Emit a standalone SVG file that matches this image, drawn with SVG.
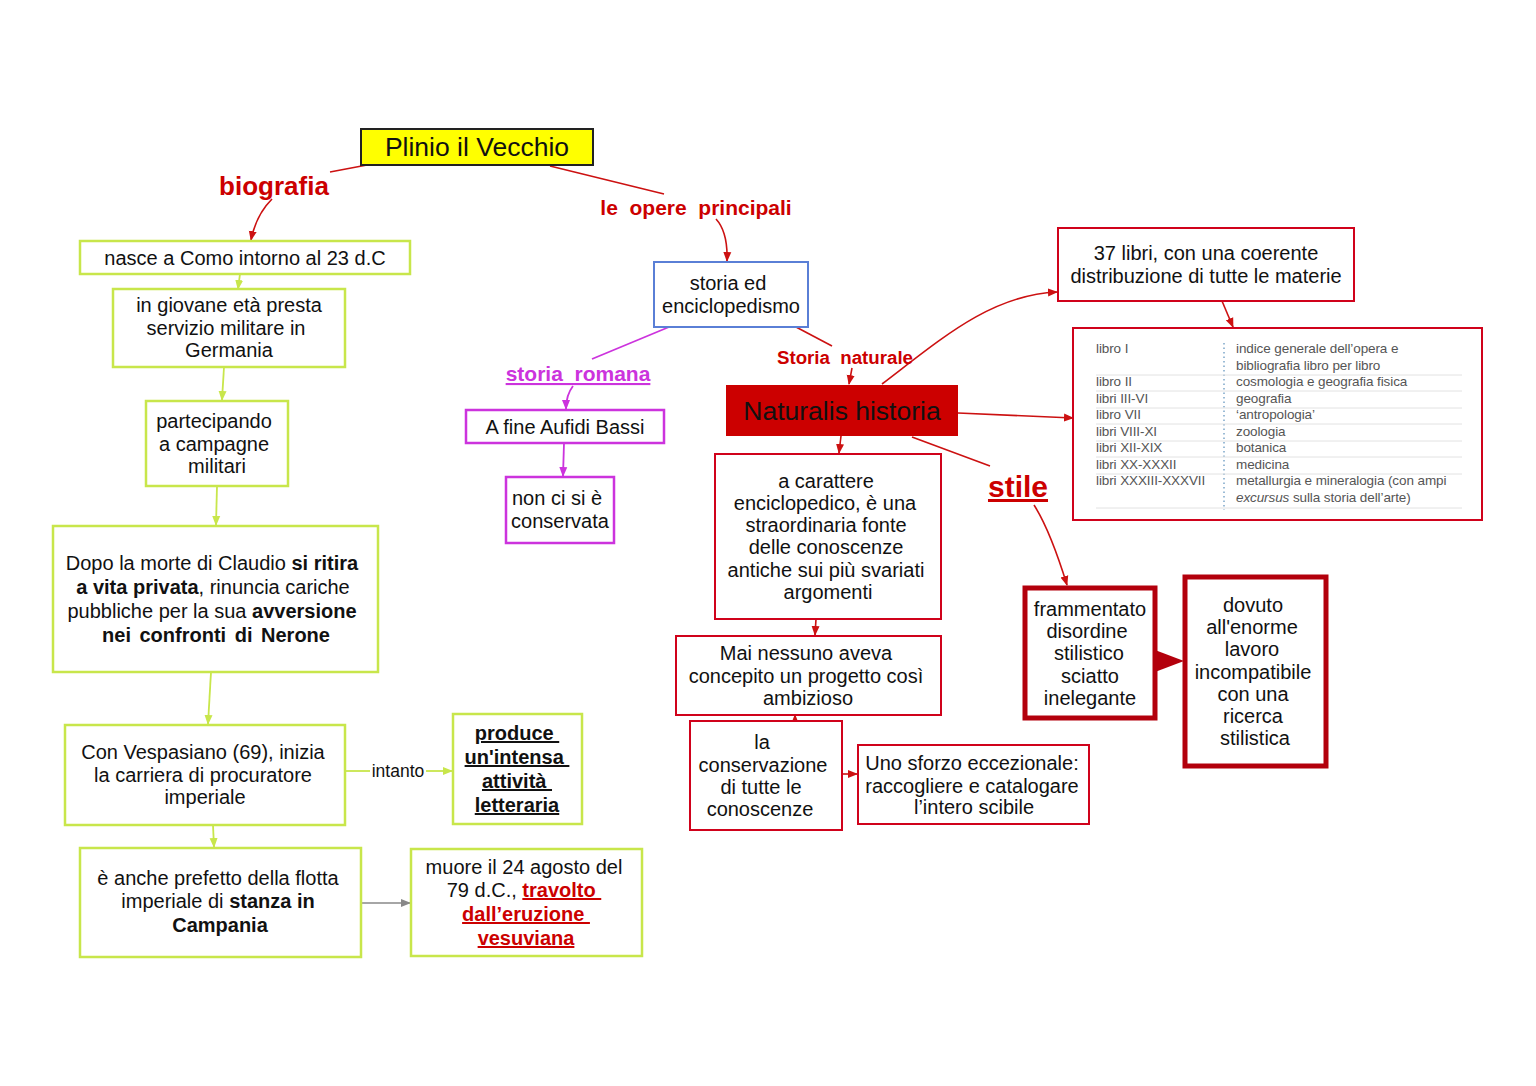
<svg xmlns="http://www.w3.org/2000/svg" width="1536" height="1086" viewBox="0 0 1536 1086">
<defs>
<style>
text{font-family:"Liberation Sans",Arial,sans-serif;fill:#111;}
.t{font-size:20px;text-anchor:middle;}
.b{font-weight:bold;}
.u{text-decoration:underline;}
.g{fill:#fff;stroke:#c8e64b;stroke-width:2.5;}
.r{fill:#fff;stroke:#d0021b;stroke-width:2;}
.m{fill:#fff;stroke:#cc33dd;stroke-width:2.5;}
.dr{fill:#fff;stroke:#b3000c;stroke-width:5;}
.lr{fill:#cc0000;font-weight:bold;}
.cr{fill:none;stroke:#cc1111;stroke-width:1.6;}
.cg{fill:none;stroke:#c8e64b;stroke-width:1.8;}
.cm{fill:none;stroke:#cc33dd;stroke-width:1.8;}
.cy{fill:none;stroke:#888;stroke-width:1.5;}
.tb{font-size:13.5px;fill:#555;letter-spacing:-0.1px;}
.sep{stroke:#e2e2e2;stroke-width:1;}
</style>
<marker id="ar" markerUnits="userSpaceOnUse" markerWidth="10" markerHeight="10" viewBox="0 0 10 10" refX="9" refY="5" orient="auto"><path d="M0,1 L10,5 L0,9 z" fill="#cc1111"/></marker>
<marker id="ag" markerUnits="userSpaceOnUse" markerWidth="10" markerHeight="10" viewBox="0 0 10 10" refX="9" refY="5" orient="auto"><path d="M0,1 L10,5 L0,9 z" fill="#c8e64b"/></marker>
<marker id="am" markerUnits="userSpaceOnUse" markerWidth="10" markerHeight="10" viewBox="0 0 10 10" refX="9" refY="5" orient="auto"><path d="M0,1 L10,5 L0,9 z" fill="#cc33dd"/></marker>
<marker id="ay" markerUnits="userSpaceOnUse" markerWidth="10" markerHeight="10" viewBox="0 0 10 10" refX="9" refY="5" orient="auto"><path d="M0,1 L10,5 L0,9 z" fill="#888"/></marker>
</defs>
<rect width="1536" height="1086" fill="#fff"/>

<g id="connectors">
<path class="cr" d="M367 165 L330 172"/>
<path class="cr" d="M272 199 Q256 215 251 240" marker-end="url(#ar)"/>
<path class="cr" d="M550 166 L664 194"/>
<path class="cr" d="M716 219 Q728 232 727 261" marker-end="url(#ar)"/>
<path class="cg" d="M240 274 L238 289" marker-end="url(#ag)"/>
<path class="cg" d="M224 367 L222 400" marker-end="url(#ag)"/>
<path class="cg" d="M217 486 L216 525" marker-end="url(#ag)"/>
<path class="cg" d="M211 672 L208 724" marker-end="url(#ag)"/>
<path class="cg" d="M345 771 L370 771"/>
<path class="cg" d="M426 771 L452 771" marker-end="url(#ag)"/>
<path class="cg" d="M213 825 L214 847" marker-end="url(#ag)"/>
<path class="cy" d="M362 903 L410 903" marker-end="url(#ay)"/>
<path class="cm" d="M669 327 L592 359"/>
<path class="cm" d="M573 386 Q566 395 566 409" marker-end="url(#am)"/>
<path class="cm" d="M564 443 L563 476" marker-end="url(#am)"/>
<path class="cr" d="M796 327 L832 346"/>
<path class="cr" d="M852 368 L849 384" marker-end="url(#ar)"/>
<path class="cr" d="M882 384 C940 340 990 295 1057 292" marker-end="url(#ar)"/>
<path class="cr" d="M958 413 L1073 418" marker-end="url(#ar)"/>
<path class="cr" d="M912 437 L990 466"/>
<path class="cr" d="M1034 505 Q1050 530 1067 585" marker-end="url(#ar)"/>
<path class="cr" d="M1222 301 L1233 327" marker-end="url(#ar)"/>
<path class="cr" d="M841 436 L839 453" marker-end="url(#ar)"/>
<path class="cr" d="M816 619 L815 635" marker-end="url(#ar)"/>
<path class="cr" d="M795 722 L795 715" marker-end="url(#ar)"/>
<path class="cr" d="M842 774 L857 774" marker-end="url(#ar)"/>
<polygon points="1155,650 1155,672 1184,661" fill="#b3000c"/>
</g>

<g id="labels">
<text class="lr" x="274" y="195" font-size="26" text-anchor="middle">biografia</text>
<text class="lr" x="696" y="215" font-size="21" text-anchor="middle" xml:space="preserve">le  opere  principali</text>
<text class="lr u" x="578" y="381" font-size="21" text-anchor="middle" style="fill:#cc33dd" xml:space="preserve">storia  romana</text>
<text class="lr" x="845" y="364" font-size="18.7" text-anchor="middle" xml:space="preserve">Storia  naturale</text>
<text class="lr u" x="1018" y="497" font-size="30" text-anchor="middle">stile</text>
<text x="398" y="777" font-size="17.5" text-anchor="middle">intanto</text>
</g>

<g id="n-title">
<rect x="361" y="129" width="232" height="36" fill="#ffff00" stroke="#222" stroke-width="2"/>
<text x="477" y="156" font-size="26.5" text-anchor="middle">Plinio il Vecchio</text>
</g>

<g id="n-nasce">
<rect class="g" x="80" y="241" width="330" height="33"/>
<text class="t" x="245" y="265">nasce a Como intorno al 23 d.C</text>
</g>

<g id="n-giovane">
<rect class="g" x="113" y="289" width="232" height="78"/>
<text class="t" x="229" y="312">in giovane età presta</text>
<text class="t" x="226" y="335">servizio militare in</text>
<text class="t" x="229" y="357">Germania</text>
</g>

<g id="n-partecipando">
<rect class="g" x="146" y="401" width="142" height="85"/>
<text class="t" x="214" y="428">partecipando</text>
<text class="t" x="214" y="451">a campagne</text>
<text class="t" x="217" y="473">militari</text>
</g>

<g id="n-dopo">
<rect class="g" x="53" y="526" width="325" height="146"/>
<text class="t" x="212" y="570">Dopo la morte di Claudio <tspan class="b">si ritira</tspan></text>
<text class="t" x="213" y="594"><tspan class="b">a vita privata</tspan>, rinuncia cariche</text>
<text class="t" x="212" y="618">pubbliche per la sua <tspan class="b">avversione</tspan></text>
<text class="t b" x="216" y="642" word-spacing="3">nei confronti di Nerone</text>
</g>

<g id="n-vespasiano">
<rect class="g" x="65" y="725" width="280" height="100"/>
<text class="t" x="203" y="759">Con Vespasiano (69), inizia</text>
<text class="t" x="203" y="782">la carriera di procuratore</text>
<text class="t" x="205" y="804">imperiale</text>
</g>

<g id="n-produce">
<rect class="g" x="453" y="714" width="129" height="110"/>
<text class="t b u" x="517" y="740" xml:space="preserve">produce </text>
<text class="t b u" x="517" y="764" xml:space="preserve">un'intensa </text>
<text class="t b u" x="517" y="788" xml:space="preserve">attività </text>
<text class="t b u" x="517" y="812">letteraria</text>
</g>

<g id="n-prefetto">
<rect class="g" x="80" y="848" width="281" height="109"/>
<text class="t" x="218" y="885">è anche prefetto della flotta</text>
<text class="t" x="218" y="908">imperiale di <tspan class="b">stanza in</tspan></text>
<text class="t b" x="220" y="932">Campania</text>
</g>

<g id="n-muore">
<rect class="g" x="411" y="849" width="231" height="107"/>
<text class="t" x="524" y="874">muore il 24 agosto del</text>
<text class="t" x="524" y="897">79 d.C., <tspan class="b u" style="fill:#cc0000" xml:space="preserve">travolto </tspan></text>
<text class="t b u" x="526" y="921" style="fill:#cc0000" xml:space="preserve">dall’eruzione </text>
<text class="t b u" x="526" y="945" style="fill:#cc0000">vesuviana</text>
</g>

<g id="n-storia-ed">
<rect x="654" y="262" width="154" height="65" fill="#fff" stroke="#5a7fd6" stroke-width="2"/>
<text class="t" x="728" y="290">storia ed</text>
<text class="t" x="731" y="313">enciclopedismo</text>
</g>

<g id="n-aufidi">
<rect class="m" x="466" y="410" width="198" height="33"/>
<text class="t" x="565" y="434">A fine Aufidi Bassi</text>
</g>

<g id="n-nonci">
<rect class="m" x="506" y="477" width="108" height="66"/>
<text class="t" x="557" y="505">non ci si è</text>
<text class="t" x="560" y="528">conservata</text>
</g>

<g id="n-naturalis">
<rect x="726" y="385" width="232" height="51" fill="#cc0000"/>
<text x="842" y="420" font-size="26.5" text-anchor="middle">Naturalis historia</text>
</g>

<g id="n-37libri">
<rect class="r" x="1058" y="228" width="296" height="73"/>
<text class="t" x="1206" y="260">37 libri, con una coerente</text>
<text class="t" x="1206" y="283">distribuzione di tutte le materie</text>
</g>

<g id="n-table">
<rect class="r" x="1073" y="328" width="409" height="192"/>
<line x1="1224" y1="343" x2="1224" y2="510" stroke="#9bbbd6" stroke-width="2" stroke-dasharray="1.5,3"/>
<line class="sep" x1="1096" y1="375" x2="1462" y2="375"/>
<line class="sep" x1="1096" y1="391" x2="1462" y2="391"/>
<line class="sep" x1="1096" y1="408" x2="1462" y2="408"/>
<line class="sep" x1="1096" y1="424" x2="1462" y2="424"/>
<line class="sep" x1="1096" y1="441" x2="1462" y2="441"/>
<line class="sep" x1="1096" y1="457" x2="1462" y2="457"/>
<line class="sep" x1="1096" y1="474" x2="1462" y2="474"/>
<line class="sep" x1="1096" y1="508" x2="1462" y2="508"/>
<text class="tb" x="1096" y="353">libro I</text>
<text class="tb" x="1096" y="386">libro II</text>
<text class="tb" x="1096" y="403">libri III-VI</text>
<text class="tb" x="1096" y="419">libro VII</text>
<text class="tb" x="1096" y="436">libri VIII-XI</text>
<text class="tb" x="1096" y="452">libri XII-XIX</text>
<text class="tb" x="1096" y="469">libri XX-XXXII</text>
<text class="tb" x="1096" y="485">libri XXXIII-XXXVII</text>
<text class="tb" x="1236" y="353">indice generale dell’opera e</text>
<text class="tb" x="1236" y="370">bibliografia libro per libro</text>
<text class="tb" x="1236" y="386">cosmologia e geografia fisica</text>
<text class="tb" x="1236" y="403">geografia</text>
<text class="tb" x="1236" y="419">‘antropologia’</text>
<text class="tb" x="1236" y="436">zoologia</text>
<text class="tb" x="1236" y="452">botanica</text>
<text class="tb" x="1236" y="469">medicina</text>
<text class="tb" x="1236" y="485">metallurgia e mineralogia (con ampi</text>
<text class="tb" x="1236" y="502"><tspan font-style="italic">excursus</tspan> sulla storia dell’arte)</text>
</g>

<g id="n-carattere">
<rect class="r" x="715" y="454" width="226" height="165"/>
<text class="t" x="826" y="488">a carattere</text>
<text class="t" x="825" y="510">enciclopedico, è una</text>
<text class="t" x="826" y="532">straordinaria fonte</text>
<text class="t" x="826" y="554">delle conoscenze</text>
<text class="t" x="826" y="577">antiche sui più svariati</text>
<text class="t" x="828" y="599">argomenti</text>
</g>

<g id="n-mai">
<rect class="r" x="676" y="636" width="265" height="79"/>
<text class="t" x="806" y="660">Mai nessuno aveva</text>
<text class="t" x="806" y="683">concepito un progetto così</text>
<text class="t" x="808" y="705">ambizioso</text>
</g>

<g id="n-conservazione">
<rect class="r" x="690" y="721" width="152" height="109"/>
<text class="t" x="762" y="749">la</text>
<text class="t" x="763" y="772">conservazione</text>
<text class="t" x="761" y="794">di tutte le</text>
<text class="t" x="760" y="816">conoscenze</text>
</g>

<g id="n-sforzo">
<rect class="r" x="858" y="745" width="231" height="79"/>
<text class="t" x="972" y="770">Uno sforzo eccezionale:</text>
<text class="t" x="972" y="793">raccogliere e catalogare</text>
<text class="t" x="974" y="814">l’intero scibile</text>
</g>

<g id="n-frammentato">
<rect class="dr" x="1025" y="588" width="130" height="130"/>
<text class="t" x="1090" y="616">frammentato</text>
<text class="t" x="1087" y="638">disordine</text>
<text class="t" x="1089" y="660">stilistico</text>
<text class="t" x="1090" y="683">sciatto</text>
<text class="t" x="1090" y="705">inelegante</text>
</g>

<g id="n-dovuto">
<rect class="dr" x="1185" y="577" width="141" height="189"/>
<text class="t" x="1253" y="612">dovuto</text>
<text class="t" x="1252" y="634">all'enorme</text>
<text class="t" x="1252" y="656">lavoro</text>
<text class="t" x="1253" y="679">incompatibile</text>
<text class="t" x="1253" y="701">con una</text>
<text class="t" x="1253" y="723">ricerca</text>
<text class="t" x="1255" y="745">stilistica</text>
</g>
</svg>
